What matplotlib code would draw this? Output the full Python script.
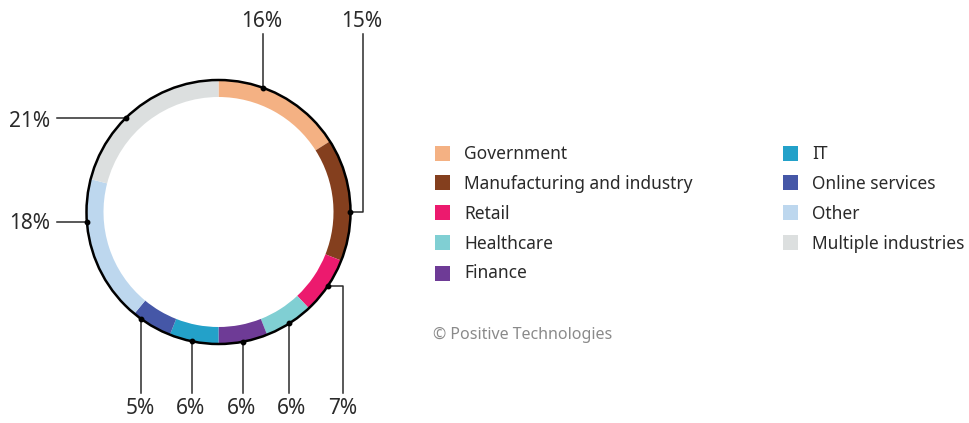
import numpy as np
import matplotlib.pyplot as plt
from matplotlib.patches import Circle, Rectangle

plt.rcParams['font.family'] = ['Noto Sans', 'DejaVu Sans']

# Shares of incidents by industry (percent), clockwise from 12 o'clock
industries = ['Government', 'Manufacturing and industry', 'Retail', 'Healthcare',
              'Finance', 'IT', 'Online services', 'Other', 'Multiple industries']
shares = [16, 15, 7, 6, 6, 6, 5, 18, 21]
colors = ['#F4B183', '#843F1E', '#EC1A6E', '#80CFD3', '#6E3B96',
          '#23A1C9', '#4557A7', '#BDD7EE', '#DCDFDF']

W, H = 970, 423
fig = plt.figure(figsize=(W / 100, H / 100), dpi=100)
ax = fig.add_axes([0, 0, 1, 1])

cx, cy, r = 218.5, H - 212, 132
ax.pie(shares, colors=colors, startangle=90, counterclock=False,
       center=(cx, cy), radius=r,
       wedgeprops=dict(width=17, linewidth=0))
ax.add_patch(Circle((cx, cy), r, fill=False, edgecolor='black', lw=1.8, zorder=3))

ax.set_xlim(0, W)
ax.set_ylim(0, H)
ax.set_aspect('equal')
ax.axis('off')


def on_ring(deg):
    a = np.radians(deg)
    return cx + r * np.sin(a), cy + r * np.cos(a)


lc = '#2b2b2b'
lab_kw = dict(fontsize=15, color='#2a2a2a', ha='center', va='center')

# leader anchor angles (clockwise from top) and label placement
# kind: 'up', 'down', 'left', 'elbow_up', 'elbow_down'
leaders = [
    (19.7, 'up', (262, 21)),
    (90.0, 'elbow_up', (362, 21)),
    (124.0, 'elbow_down', (343, 409)),
    (147.6, 'down', (292, 409)),
    (169.2, 'down', (242, 409)),
    (191.5, 'down', (191, 409)),
    (216.0, 'down', (140, 409)),
    (265.5, 'left', (30, 223)),
    (315.5, 'left', (30, 121)),
]

for share, (deg, kind, (lx, ly)) in zip(shares, leaders):
    px, py = on_ring(deg)
    ly = H - ly
    if kind == 'up':
        ax.plot([px, px], [py, ly - 13], color=lc, lw=1.1)
    elif kind == 'down':
        ax.plot([px, px], [py, ly + 16], color=lc, lw=1.1)
    elif kind == 'left':
        ax.plot([lx + 27, px], [py, py], color=lc, lw=1.1)
    elif kind == 'elbow_up':
        ax.plot([px, lx + 1, lx + 1], [py, py, ly - 13], color=lc, lw=1.1)
    elif kind == 'elbow_down':
        ax.plot([px, lx, lx], [py, py, ly + 16], color=lc, lw=1.1)
    ax.plot(px, py, 'o', color='black', ms=3.2, zorder=4)
    ax.text(lx, ly, f'{share}%', **lab_kw)

# legend in two columns
col_x = [435, 783]
row_y = [153, 183, 213, 243, 273]
for i, (name, c) in enumerate(zip(industries, colors)):
    col, row = divmod(i, 5)
    x0, y0 = col_x[col], H - row_y[row]
    ax.add_patch(Rectangle((x0, y0 - 7.5), 15, 15, facecolor=c, edgecolor='none'))
    ax.text(x0 + 29, y0 - 0.5, name, fontsize=12.5, color='#2a2a2a', va='center', ha='left')

ax.text(433, H - 335, '\u00a9 Positive Technologies', fontsize=11.5,
        color='#8a8a8a', va='center', ha='left')

fig.savefig('out.png', dpi=100)
